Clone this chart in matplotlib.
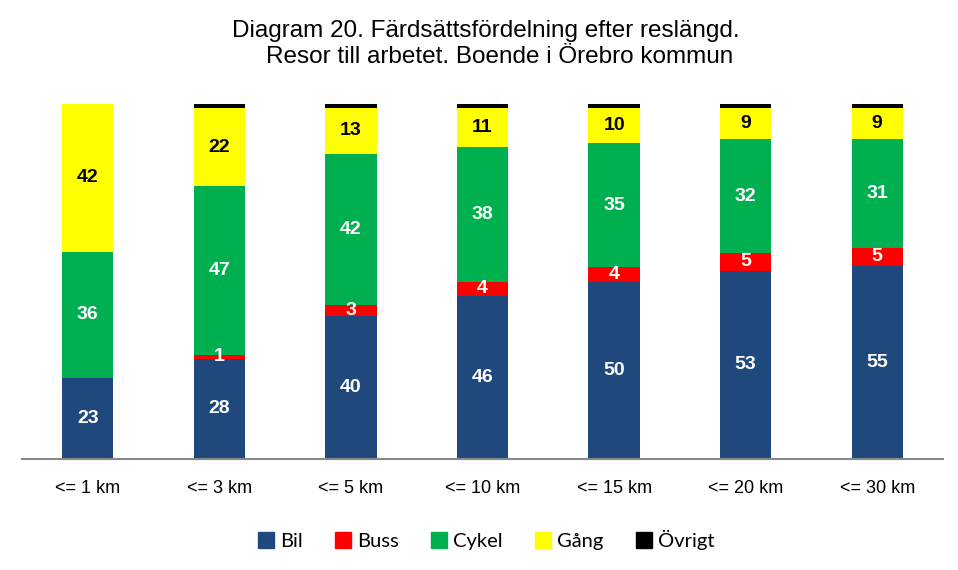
import matplotlib.pyplot as plt
import numpy as np
from matplotlib.patches import Patch

categories = ['<= 1 km', '<= 3 km', '<= 5 km', '<= 10 km', '<= 15 km', '<= 20 km', '<= 30 km']
bil = [23, 28, 40, 46, 50, 53, 55]
buss = [0, 1, 3, 4, 4, 5, 5]
cykel = [36, 47, 42, 38, 35, 32, 31]
gang = [42, 22, 13, 11, 10, 9, 9]
ovrigt = [0, 1, 1, 1, 1, 1, 1]

series = [('Bil', bil, '#1F497D', 'white'),
          ('Buss', buss, '#FF0000', 'white'),
          ('Cykel', cykel, '#00B050', 'white'),
          ('Gång', gang, '#FFFF00', 'black'),
          ('Övrigt', ovrigt, '#000000', None)]

plt.rcParams['font.family'] = ['Liberation Sans', 'DejaVu Sans']

fig = plt.figure(figsize=(9.58, 5.70), dpi=100)
ax = fig.add_axes([22/958, 111/570, 921/958, 355/570])

x = np.arange(len(categories))
total = np.zeros(len(categories))
for name, vals, col, tc in series:
    total += np.array(vals, dtype=float)

# 100% stacked, labels show the original values
bottom = np.zeros(len(categories))
for name, vals, col, tc in series:
    h = np.array(vals) / total * 100
    ax.bar(x, h, 0.39, bottom=bottom, color=col, label=name)
    if tc is not None:
        for i in range(len(x)):
            if vals[i] > 0:
                ax.text(x[i], bottom[i] + h[i] / 2, str(vals[i]), ha='center', va='center',
                        color=tc, fontsize=14, fontweight='bold')
    bottom += h

ax.set_xlim(-0.5, len(categories) - 0.5)
ax.set_ylim(0, 100)
ax.set_yticks([])
for s in ['left', 'right', 'top']:
    ax.spines[s].set_visible(False)
ax.spines['bottom'].set_color('#888888')
ax.spines['bottom'].set_linewidth(1.5)
ax.set_xticks(x)
ax.set_xticklabels(categories, fontsize=13)
ax.tick_params(axis='x', length=0, pad=15)

fig.text(486/958, 1 - 31/570, 'Diagram 20. Färdsättsfördelning efter reslängd.',
         ha='center', va='center', fontsize=17.5)
fig.text(500/958, 1 - 57/570, 'Resor till arbetet. Boende i Örebro kommun',
         ha='center', va='center', fontsize=17.5)

handles = [Patch(color=c, label=n) for n, v, c, t in series]
fig.legend(handles=handles, loc='center', bbox_to_anchor=(486/958, 1 - 540/570), ncol=5,
           frameon=False, prop={'family': 'Lato', 'size': 14.5}, handlelength=0.8,
           handleheight=0.8, handletextpad=0.3, columnspacing=1.6)

fig.savefig('out.png', dpi=100)
